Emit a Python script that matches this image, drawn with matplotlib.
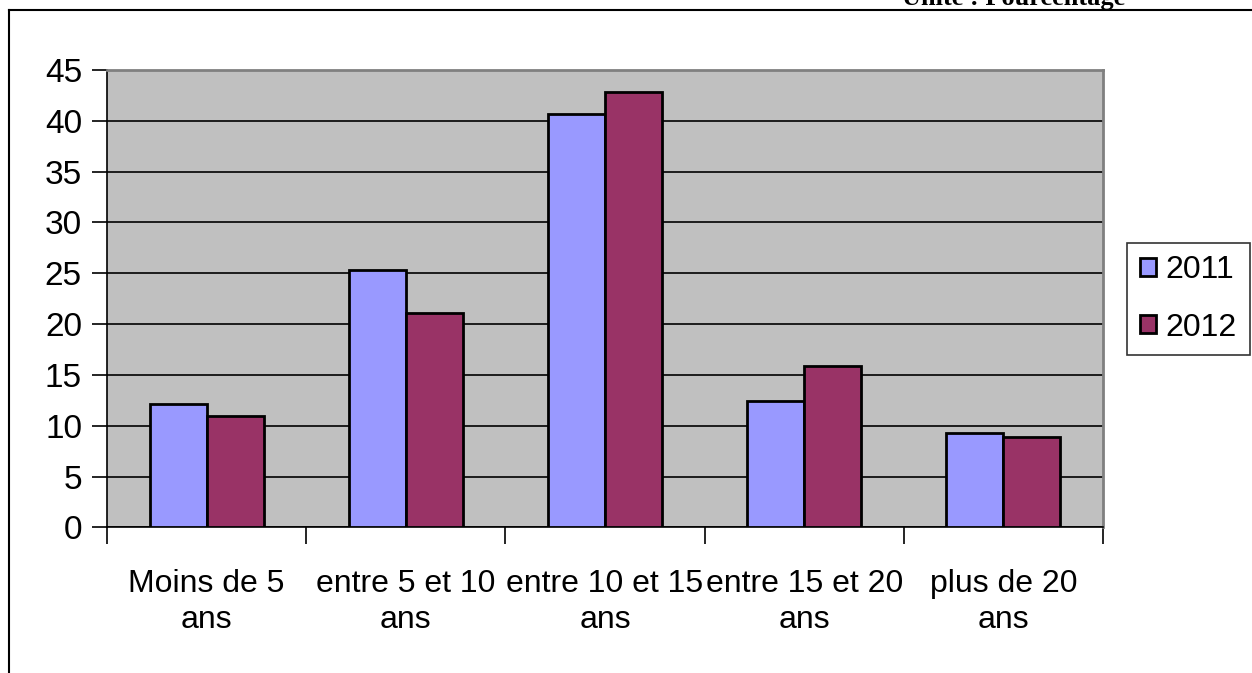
import matplotlib.pyplot as plt
import numpy as np

# data
categories = ["Moins de 5\nans", "entre 5 et 10\nans", "entre 10 et 15\nans",
              "entre 15 et 20\nans", "plus de 20\nans"]
years = ["2011", "2012"]
values_2011 = [12.1, 25.3, 40.7, 12.4, 9.3]
values_2012 = [11.0, 21.1, 42.8, 15.9, 8.9]
y_ticks = [0, 5, 10, 15, 20, 25, 30, 35, 40, 45]

COLORS = ["#9999FF", "#993366"]
BAR_WIDTH = 0.286

plt.rcParams['font.family'] = ['Liberation Sans', 'DejaVu Sans']

fig = plt.figure(figsize=(12.52, 6.73), dpi=100)
ax = fig.add_axes([107 / 1252, 1 - 527.4 / 673, (1103 - 107) / 1252, (527.4 - 70) / 673])

x = np.arange(len(categories))
ax.bar(x - BAR_WIDTH / 2, values_2011, width=BAR_WIDTH, color=COLORS[0],
       edgecolor="black", linewidth=2, label=years[0], zorder=3)
ax.bar(x + BAR_WIDTH / 2, values_2012, width=BAR_WIDTH, color=COLORS[1],
       edgecolor="black", linewidth=2, label=years[1], zorder=3)

# plot area styling
ax.set_facecolor("#C0C0C0")
ax.set_xlim(-0.5, len(categories) - 0.5)
ax.set_ylim(0, 45)
ax.set_yticks(y_ticks)
ax.yaxis.grid(True, color="black", linewidth=1.2)
ax.set_axisbelow(True)
for side in ["top", "right"]:
    ax.spines[side].set_color("#808080")
    ax.spines[side].set_linewidth(2)
for side in ["left", "bottom"]:
    ax.spines[side].set_color("black")
    ax.spines[side].set_linewidth(1.2)

ax.tick_params(axis="y", length=11, width=1.2, labelsize=24, pad=7)
ax.set_xticks(x)
ax.set_xticklabels(categories, fontsize=23, linespacing=1.25)
ax.tick_params(axis="x", which="major", length=0, pad=30)
ax.set_xticks(np.arange(-0.5, len(categories)), minor=True)
ax.tick_params(axis="x", which="minor", length=12, width=1.2)

# legend box on the right
leg = fig.legend(loc="center", bbox_to_anchor=(1188.5 / 1252, 1 - 299 / 673),
                 fontsize=23, frameon=True, fancybox=False, edgecolor="black",
                 handlelength=0.5, handleheight=0.5, handletextpad=0.3,
                 labelspacing=0.85, borderpad=0.4, borderaxespad=0)
leg.get_frame().set_linewidth(1.2)

# frame lines and unit caption at the top
fig.add_artist(plt.Line2D([9 / 1252, 1], [1 - 10 / 673, 1 - 10 / 673],
                          color="black", linewidth=1.5, transform=fig.transFigure))
fig.add_artist(plt.Line2D([9 / 1252, 9 / 1252], [0, 1 - 10 / 673],
                          color="black", linewidth=1.5, transform=fig.transFigure))
fig.text(1014 / 1252, 1 - 5 / 673, "Unité : Pourcentage", ha="center", va="baseline",
         fontsize=19, fontweight="bold", family=["Liberation Serif", "DejaVu Serif"])

fig.savefig("out.png", dpi=100)
